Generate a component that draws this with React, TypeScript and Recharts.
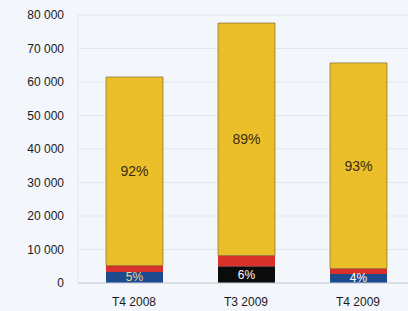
import { BarChart, Bar, XAxis, YAxis, CartesianGrid, Cell, LabelList } from "recharts";

const periods = ["T4 2008", "T3 2009", "T4 2009"];
const bottomValues = [3300, 5000, 2700];
const redValues = [1900, 3200, 1600];
const yellowValues = [56300, 69400, 61400];
const bottomLabels = ["5%", "6%", "4%"];
const yellowLabels = ["92%", "89%", "93%"];
const bottomColors = ["#1d4a8c", "#0b0b0b", "#1d4a8c"];
const yTicks = [0, 10000, 20000, 30000, 40000, 50000, 60000, 70000, 80000];

const data = periods.map((p, i) => ({
  name: p,
  bottom: bottomValues[i],
  red: redValues[i],
  yellow: yellowValues[i],
}));

const fmt = (v: number) => String(v).replace(/\B(?=(\d{3})+(?!\d))/g, " ");

export default function App() {
  return (
    <div style={{ position: "absolute", left: 0, top: 0, width: 408, height: 311, overflow: "hidden", background: "#f3f6fa" }}>
      <BarChart
        width={414}
        height={311}
        data={data}
        margin={{ top: 15, right: 0, left: 0, bottom: 0 }}
        barSize={57}
      >
        <CartesianGrid vertical={false} stroke="#e2e7ee" />
        <XAxis
          dataKey="name"
          axisLine={{ stroke: "#c8ced6" }}
          tickLine={false}
          height={28}
          tick={{ fill: "#1a1a1a", fontSize: 12, fontFamily: "Liberation Sans, Arial" }}
          tickMargin={8}
        />
        <YAxis
          domain={[0, 80000]}
          ticks={yTicks}
          tickFormatter={fmt}
          width={78}
          axisLine={{ stroke: "#e2e7ee" }}
          tickLine={false}
          tickMargin={8}
          tick={{ fill: "#1a1a1a", fontSize: 12, fontFamily: "Liberation Sans, Arial" }}
          interval={0}
        />
        <Bar dataKey="bottom" stackId="a" isAnimationActive={false}>
          {data.map((_, i) => (
            <Cell key={i} fill={bottomColors[i]} />
          ))}
          <LabelList
            dataKey="bottom"
            content={(props: any) => (
              <text
                x={props.x + props.width / 2}
                y={props.y + props.height / 2 + 4}
                textAnchor="middle"
                fontSize={12}
                fill={props.index === 0 ? "#e8d890" : "#ffffff"}
                fontFamily="Liberation Sans, Arial"
              >
                {bottomLabels[props.index]}
              </text>
            )}
          />
        </Bar>
        <Bar dataKey="red" stackId="a" fill="#d8302b" isAnimationActive={false} />
        <Bar dataKey="yellow" stackId="a" fill="#ebbf2a" stroke="#6b5a2a" strokeWidth={0.6} isAnimationActive={false}>
          <LabelList
            dataKey="yellow"
            content={(props: any) => (
              <text
                x={props.x + props.width / 2}
                y={props.y + props.height / 2 + 5}
                textAnchor="middle"
                fontSize={14}
                fill="#3a2c10"
                fontFamily="Liberation Sans, Arial"
              >
                {yellowLabels[props.index]}
              </text>
            )}
          />
        </Bar>
      </BarChart>
    </div>
  );
}
